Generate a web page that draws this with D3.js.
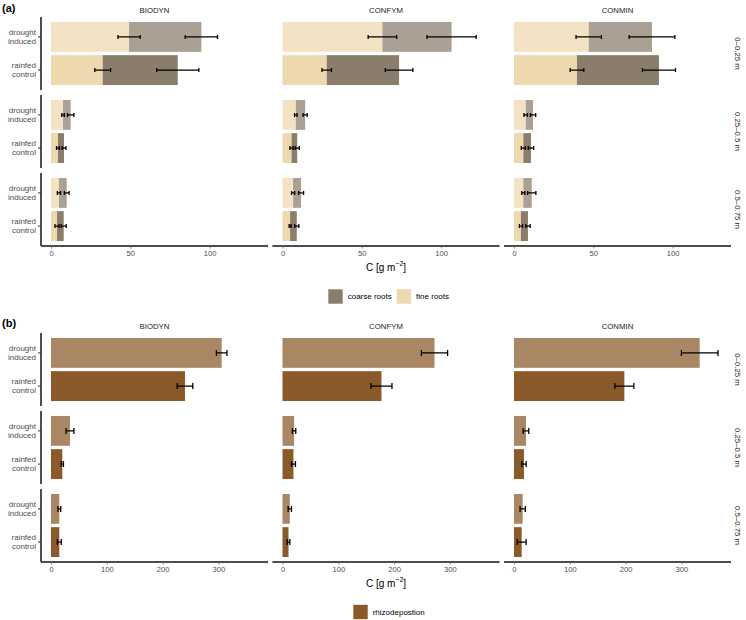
<!DOCTYPE html>
<html><head><meta charset="utf-8">
<script src="https://cdn.jsdelivr.net/npm/d3@7"></script>
<style>body{margin:0;background:#fff}svg{display:block;font-family:"Liberation Sans",Arial,sans-serif}</style>
</head><body><svg id="c" width="746" height="620"></svg>
<script>
// ---------- data ----------
const systems = ["BIODYN", "CONFYM", "CONMIN"];
const depths = ["0–0.25 m", "0.25–0.5 m", "0.5–0.75 m"];
const treatments = ["drought induced", "rainfed control"];

// fine roots [system][depth][treatment]
const fineMean = [
  [[49.2, 32.6], [7.6, 4.4], [5.0, 3.8]],
  [[63.0, 27.9], [8.4, 5.7], [6.7, 4.8]],
  [[47.1, 39.7], [7.4, 5.9], [5.9, 4.4]]
];
const fineErr = [
  [[7.0, 5.0], [0.8, 0.9], [1.0, 1.3]],
  [[9.0, 3.0], [0.8, 1.0], [1.0, 0.6]],
  [[8.0, 4.3], [1.1, 1.3], [1.0, 1.0]]
];
// coarse roots (stacked on fine roots)
const coarseMean = [
  [[45.6, 47.3], [4.8, 3.8], [4.9, 4.2]],
  [[43.6, 45.6], [5.9, 3.6], [5.0, 4.2]],
  [[39.9, 51.7], [4.6, 4.8], [5.3, 4.4]]
];
const coarseErr = [
  [[10.2, 13.3], [2.0, 1.2], [1.5, 1.6]],
  [[15.5, 8.7], [1.3, 1.3], [1.6, 1.3]],
  [[14.4, 10.4], [1.7, 1.7], [2.6, 1.4]]
];
// rhizodeposition
const rhizoMean = [
  [[305.9, 240.1], [34.0, 20.3], [14.9, 14.9]],
  [[272.4, 177.4], [20.8, 19.7], [13.1, 10.8]],
  [[332.8, 197.8], [21.5, 17.9], [15.6, 13.8]]
];
const rhizoErr = [
  [[9.5, 14.0], [7.0, 2.0], [2.5, 3.5]],
  [[23.5, 18.8], [3.0, 3.5], [3.0, 2.4]],
  [[32.8, 17.0], [5.0, 3.9], [4.7, 8.0]]
];
const ticksA = [0, 50, 100];
const ticksB = [0, 100, 200, 300];

// ---------- drawing ----------
const svg = d3.select("#c");
const colX = d3.scaleBand().domain(systems).range([41, 731]).paddingInner(0.0194).paddingOuter(0);
const alphaDrought = 0.73;

function panel(cfg) {
  const g = svg.append("g");
  const rowY = d3.scaleBand().domain(depths).range(cfg.rows).paddingInner(0.0641).paddingOuter(0);
  const inY = d3.scaleBand().domain(treatments).range([0, rowY.bandwidth()]).paddingInner(0.1).paddingOuter(0.15);

  g.append("text").attr("x", 2).attr("y", cfg.labelY).attr("dominant-baseline", "central")
    .attr("font-size", 11).attr("font-weight", "bold").attr("fill", "#000").text(cfg.label);

  systems.forEach((sys, si) => {
    const x0 = colX(sys), w = colX.bandwidth();
    const x = d3.scaleLinear().domain(cfg.domain).range([x0, x0 + w]);
    // strip title
    g.append("text").attr("x", x0 + w / 2).attr("y", cfg.stripY).attr("text-anchor", "middle")
      .attr("dominant-baseline", "central").attr("font-size", 7.8).attr("fill", "#1a1a1a").text(sys);

    depths.forEach((dep, di) => {
      const ry = rowY(dep);
      treatments.forEach((tr, ti) => {
        const by = ry + inY(tr), bh = inY.bandwidth(), cy = by + bh / 2;
        const op = ti === 0 ? alphaDrought : 1;
        const segs = cfg.segs(si, di, ti);
        let base = 0;
        const ends = [];
        segs.forEach(s => {
          g.append("rect").attr("x", x(base)).attr("y", by)
            .attr("width", x(base + s.v) - x(base)).attr("height", bh)
            .attr("fill", s.color).attr("fill-opacity", op);
          base += s.v;
          ends.push({ v: base, e: s.e });
        });
        ends.forEach(en => {
          const a = x(en.v - en.e), b = x(en.v + en.e), h = cfg.cap / 2;
          g.append("path").attr("d", `M${a},${cy}H${b}M${a},${cy - h}V${cy + h}M${b},${cy - h}V${cy + h}`)
            .attr("stroke", "#000").attr("stroke-width", 1.3).attr("fill", "none");
        });
      });

      if (si === 0) {
        // y axis line per row
        g.append("line").attr("x1", x0).attr("x2", x0).attr("y1", ry).attr("y2", ry + rowY.bandwidth())
          .attr("stroke", "#222").attr("stroke-width", 1.6);
        treatments.forEach(tr => {
          const cy = ry + inY(tr) + inY.bandwidth() / 2;
          g.append("line").attr("x1", x0 - 3).attr("x2", x0).attr("y1", cy).attr("y2", cy)
            .attr("stroke", "#333").attr("stroke-width", 1);
          const words = tr.split(" ");
          const t = g.append("text").attr("text-anchor", "end").attr("font-size", 8).attr("fill", "#4d4d4d");
          t.append("tspan").attr("x", x0 - 5).attr("y", cy - 4.2).attr("dominant-baseline", "central").text(words[0]);
          t.append("tspan").attr("x", x0 - 5).attr("y", cy + 4.2).attr("dominant-baseline", "central").text(words[1]);
        });
      }
      if (si === systems.length - 1) {
        g.append("text").attr("transform", `translate(737,${ry + rowY.bandwidth() / 2}) rotate(90)`)
          .attr("text-anchor", "middle").attr("dominant-baseline", "central")
          .attr("font-size", 7.8).attr("fill", "#1a1a1a").text(dep);
      }
    });

    // x axis
    const yAxis = cfg.rows[1];
    const ax = g.append("g").attr("transform", `translate(0,${yAxis})`)
      .call(d3.axisBottom(x).tickValues(cfg.ticks).tickSize(2.5).tickPadding(2).tickFormat(d3.format("d")));
    ax.select(".domain").attr("d", `M${x0},0H${x0 + w}`).attr("stroke", "#4d4d4d").attr("stroke-width", 2);
    ax.selectAll(".tick line").attr("stroke", "#666").attr("stroke-width", 0.8);
    ax.selectAll(".tick text").attr("font-size", 7.6).attr("fill", "#4d4d4d")
      .attr("font-family", "Liberation Sans, Arial, sans-serif");
  });

  // axis title
  const t = g.append("text").attr("x", colX("CONFYM") + colX.bandwidth() / 2).attr("y", cfg.titleY)
    .attr("text-anchor", "middle").attr("dominant-baseline", "central").attr("font-size", 10).attr("fill", "#000");
  t.append("tspan").text("C [g m");
  t.append("tspan").attr("dy", -4).attr("font-size", 7).text("−2");
  t.append("tspan").attr("dy", 4).text("]");

  // legend
  cfg.legend.forEach(l => {
    g.append("rect").attr("x", l.x).attr("y", cfg.legendY - 7.2).attr("width", 14.4).attr("height", 14.4).attr("fill", l.color);
    g.append("text").attr("x", l.x + 19.4).attr("y", cfg.legendY).attr("dominant-baseline", "central")
      .attr("font-size", 8).attr("fill", "#000").text(l.name);
  });
}

const cCoarse = "#8B7D6B", cFine = "#EED8AE", cRhizo = "#8B5A2B";

panel({
  label: "(a)", labelY: 8, stripY: 10, rows: [17, 246], domain: [-6.3, 136.8], ticks: ticksA, cap: 4,
  titleY: 267, legendY: 296.5,
  segs: (s, d, t) => [
    { v: fineMean[s][d][t], e: fineErr[s][d][t], color: cFine },
    { v: coarseMean[s][d][t], e: coarseErr[s][d][t], color: cCoarse }
  ],
  legend: [{ x: 328.3, color: cCoarse, name: "coarse roots" }, { x: 396.7, color: cFine, name: "fine roots" }]
});
panel({
  label: "(b)", labelY: 323, stripY: 326, rows: [333, 562], domain: [-17.9, 388.9], ticks: ticksB, cap: 6,
  titleY: 583, legendY: 612,
  segs: (s, d, t) => [{ v: rhizoMean[s][d][t], e: rhizoErr[s][d][t], color: cRhizo }],
  legend: [{ x: 353.3, color: cRhizo, name: "rhizodepostion" }]
});
</script></body></html>
